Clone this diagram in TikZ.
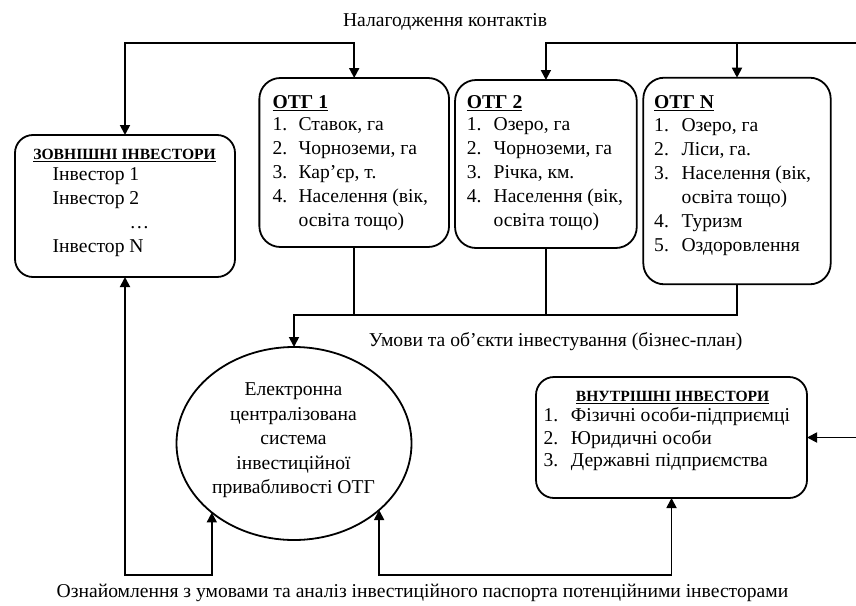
\documentclass[tikz,border=0pt]{standalone}
\usepackage{fontspec}
\setmainfont{Liberation Serif}
\usetikzlibrary{arrows.meta,shapes.geometric}
\newcommand{\hdfont}{\fontsize{15.6}{24}\selectfont}
\begin{document}
\begin{tikzpicture}[x=1pt,y=-1pt,
  line width=1.8pt,
  tip/.tip={Triangle[length=10pt,width=10pt]},
  arr/.style={-tip},
  both/.style={tip-tip},
  box/.style={draw, rounded corners=#1, inner sep=0pt, outer sep=0pt},
  box/.default=18pt,
  txt/.style={font=\fontsize{19.6}{24}\selectfont, inner sep=0pt, align=left, anchor=north west},
  lbl/.style={font=\fontsize{19.6}{24}\selectfont, inner sep=0pt},
]
\useasboundingbox (0,0) rectangle (856,605);

% boxes
\node[box, minimum width=220pt, minimum height=142pt] (zovn) at (125,206) {};
\node[box=21pt, minimum width=189.7pt, minimum height=169pt] (otg1) at (354.2,162.5) {};
\node[box=21pt, minimum width=181.7pt, minimum height=168pt] (otg2) at (545.9,164) {};
\node[box=21pt, minimum width=187.4pt, minimum height=206.6pt] (otgN) at (737,181) {};
\node[box, minimum width=271pt, minimum height=121pt] (vnutr) at (671.5,437.5) {};
\node[draw, ellipse, minimum width=235pt, minimum height=193pt, inner sep=0pt, outer sep=0pt] (sys) at (294,443.5) {};

% box texts
\node[txt] (tz) at (32.7,145.5) {\rule{0pt}{13.5pt}\makebox[182pt][c]{\hdfont\underline{\textbf{ЗОВНІШНІ ІНВЕСТОРИ}}}\\[-3pt]
\hspace*{19pt}Інвестор 1\\
\hspace*{19pt}Інвестор 2\\
\hspace*{96pt}…\\
\hspace*{19pt}Інвестор N};

\node[txt] (t1) at (271.7,94.2) {\rule{0pt}{13.5pt}\underline{\textbf{ОТГ 1}}\\[-2pt]
\makebox[26pt][l]{1.}Ставок, га\\
\makebox[26pt][l]{2.}Чорноземи, га\\
\makebox[26pt][l]{3.}Кар’єр, т.\\
\makebox[26pt][l]{4.}Населення (вік,\\
\hspace*{26pt}освіта тощо)};

\node[txt] (t2) at (466,94.2) {\rule{0pt}{13.5pt}\underline{\textbf{ОТГ 2}}\\[-2pt]
\makebox[26.7pt][l]{1.}Озеро, га\\
\makebox[26.7pt][l]{2.}Чорноземи, га\\
\makebox[26.7pt][l]{3.}Річка, км.\\
\makebox[26.7pt][l]{4.}Населення (вік,\\
\hspace*{26.7pt}освіта тощо)};

\node[txt] (tN) at (653.3,94.2) {\rule{0pt}{13.5pt}\underline{\textbf{ОТГ N}}\\[-1pt]
\makebox[27.4pt][l]{1.}Озеро, га\\
\makebox[27.4pt][l]{2.}Ліси, га.\\
\makebox[27.4pt][l]{3.}Населення (вік,\\
\hspace*{27.4pt}освіта тощо)\\
\makebox[27.4pt][l]{4.}Туризм\\
\makebox[27.4pt][l]{5.}Оздоровлення};

\node[txt, font=\fontsize{19.6}{22.5}\selectfont] (tv) at (542.7,387.5) {\rule{0pt}{13.5pt}\makebox[258pt][c]{\hdfont\underline{\textbf{ВНУТРІШНІ ІНВЕСТОРИ}}}\\[-2.5pt]
\makebox[27.3pt][l]{1.}Фізичні особи-підприємці\\
\makebox[27.3pt][l]{2.}Юридичні особи\\
\makebox[27.3pt][l]{3.}Державні підприємства};

\node[lbl, align=center, anchor=north, font=\fontsize{19.6}{24.5}\selectfont] (ts) at (293.5,381.5) {\rule{0pt}{13.5pt}Електронна\\ централізована\\ система\\ інвестиційної\\ привабливості ОТГ};

% labels
\node[lbl, anchor=base] (l1) at (445,26) {Налагодження контактів};
\node[lbl, anchor=base west] (l2) at (368,346) {Умови та об’єкти інвестування (бізнес-план)};
\node[lbl, anchor=base] (l3) at (422.5,597) {Ознайомлення з умовами та аналіз інвестиційного паспорта потенційними інвесторами};

% helper coordinates
\coordinate (ytop) at (0,43);
\coordinate (ymid) at (0,315);
\coordinate (ybot) at (0,575);
\coordinate (rtop) at (856,43);
\coordinate (rmid) at (856,437.5);

% top connectors
\draw[both] (zovn.north) -- (zovn.north |- ytop) -| (otg1.north);
\draw[arr] (rtop) -- (otg2.north |- ytop) -- (otg2.north);
\draw[arr] (otgN.north |- ytop) -- (otgN.north);

% middle connectors
\draw (otg1.south) -- (otg1.south |- ymid);
\draw (otg2.south) -- (otg2.south |- ymid);
\draw[arr] (otgN.south) |- (sys.north |- ymid) -- (sys.north);

% bottom connectors
\draw[both] (zovn.south) -- (zovn.south |- ybot) -| (sys.220.1);
\draw[both] (sys.-38.8) |- (vnutr.south |- ybot) -- (vnutr.south);

% right connector
\draw[arr] (rmid) -- (vnutr.east);
\end{tikzpicture}
\end{document}
